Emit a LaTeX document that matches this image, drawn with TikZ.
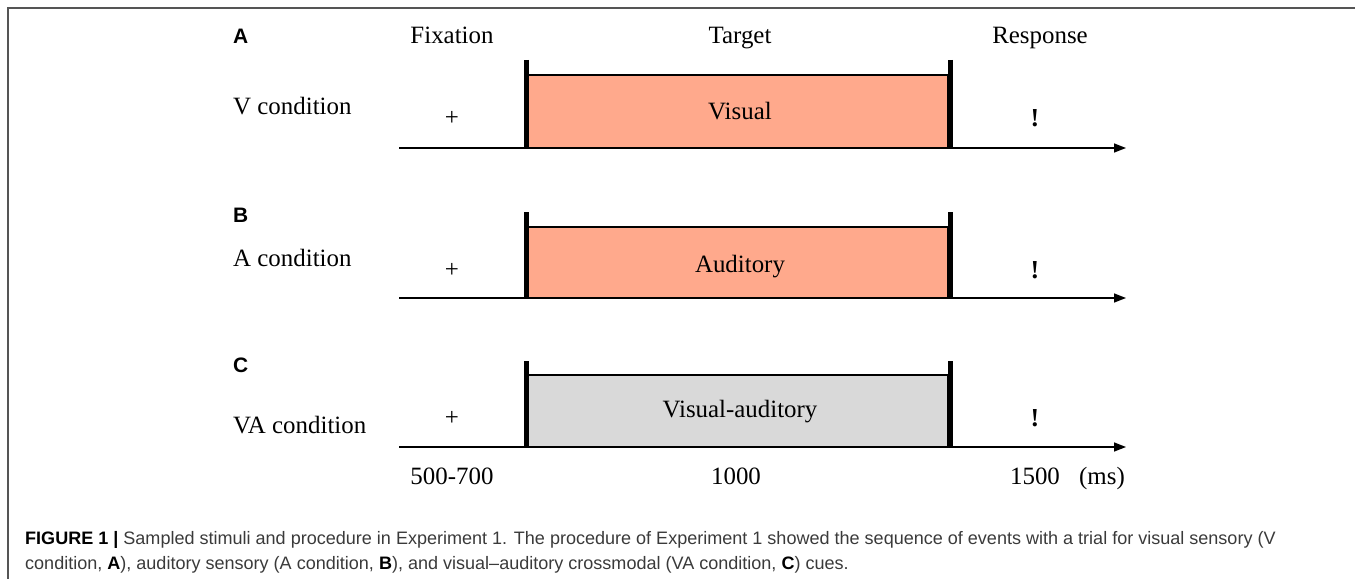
\documentclass[tikz,border=0pt]{standalone}
\usepackage{fontspec}
\setmainfont{Liberation Serif}
\newfontfamily\capfont{Liberation Sans}
\usetikzlibrary{arrows.meta}
\definecolor{salmon}{HTML}{FFA98C}
\definecolor{stimgray}{HTML}{D9D9D9}
\definecolor{captxt}{HTML}{3A3A3A}
\definecolor{framecol}{HTML}{555555}
\begin{document}
\begin{tikzpicture}[x=1bp,y=-1bp,
  lbl/.style={font=\fontsize{25}{30}\selectfont, inner sep=0},
  blbl/.style={lbl, anchor=base},
  panel/.style={font=\fontsize{21}{24}\selectfont\capfont\bfseries, inner sep=0, anchor=base west},
  cond/.style={lbl, anchor=base west},
  excl/.style={lbl, font=\fontsize{26}{30}\selectfont\bfseries},
  axisline/.style={line width=1.4bp, -{Triangle[length=12bp,width=9bp]}},
  bar/.style={line width=5bp},
  stimbox/.style={draw, line width=1.2bp, inner sep=0, minimum width=420bp},
  capline/.style={font=\fontsize{18.1}{21}\selectfont\capfont, text=captxt, inner sep=0, anchor=base west}
]
\useasboundingbox (0,0) rectangle (1355,579);
% frame
\coordinate (fb) at (8,579);
\coordinate (fc) at (8,8);
\coordinate (fr) at (1355,8);
\draw[framecol, line width=1.5bp] (fb) -- (fc) -- (fr);

% headers
\node[blbl] (hfix) at (452,44) {Fixation};
\node[blbl] (htar) at (740,44) {Target};
\node[blbl] (hres) at (1040,44) {Response};

% ---- Row A ----
\node[panel] (pA) at (233,44) {A};
\node[cond] (cA) at (233,115) {V condition};
\node[stimbox, fill=salmon, minimum height=73bp] (bA) at (738,111.5) {};
\node[blbl] (tA) at (740,120) {Visual};
\coordinate (aA0) at (399,148);
\coordinate (aA1) at (1126,148);
\draw[axisline] (aA0) -- (aA1);
\coordinate (lA0) at (526.5,60); \coordinate (lA1) at (526.5,149);
\coordinate (rA0) at (950.5,60); \coordinate (rA1) at (950.5,149);
\draw[bar] (lA0) -- (lA1);
\draw[bar] (rA0) -- (rA1);
\node[lbl] (fxA) at (452,118) {+};
\node[excl] (exA) at (1035,118) {!};

% ---- Row B ----
\node[panel] (pB) at (233,222) {B};
\node[cond] (cB) at (233,266) {A condition};
\node[stimbox, fill=salmon, minimum height=71bp] (bB) at (738,262.5) {};
\node[blbl] (tB) at (740,272) {Auditory};
\coordinate (aB0) at (399,298);
\coordinate (aB1) at (1126,298);
\draw[axisline] (aB0) -- (aB1);
\coordinate (lB0) at (526.5,212); \coordinate (lB1) at (526.5,299);
\coordinate (rB0) at (950.5,212); \coordinate (rB1) at (950.5,299);
\draw[bar] (lB0) -- (lB1);
\draw[bar] (rB0) -- (rB1);
\node[lbl] (fxB) at (452,270) {+};
\node[excl] (exB) at (1035,270) {!};

% ---- Row C ----
\node[panel] (pC) at (233,372) {C};
\node[cond] (cC) at (233,433) {VA condition};
\node[stimbox, fill=stimgray, minimum height=72bp] (bC) at (738,411) {};
\node[blbl] (tC) at (740,417) {Visual-auditory};
\coordinate (aC0) at (399,447);
\coordinate (aC1) at (1126,447);
\draw[axisline] (aC0) -- (aC1);
\coordinate (lC0) at (526.5,361); \coordinate (lC1) at (526.5,448);
\coordinate (rC0) at (950.5,361); \coordinate (rC1) at (950.5,448);
\draw[bar] (lC0) -- (lC1);
\draw[bar] (rC0) -- (rC1);
\node[lbl] (fxC) at (452,418) {+};
\node[excl] (exC) at (1035,418) {!};

% durations
\node[blbl] (d1) at (452,484) {500-700};
\node[blbl] (d2) at (736,484) {1000};
\node[blbl] (d3) at (1035,484) {1500};
\node[blbl] (d4) at (1102,484) {(ms)};

% caption
\node[capline] (cap1) at (25,544) {{\color{black}\bfseries FIGURE 1 |} Sampled stimuli and procedure in Experiment 1. The procedure of Experiment 1 showed the sequence of events with a trial for visual sensory (V};
\node[capline] (cap2) at (25,569) {condition, {\color{black}\bfseries A}), auditory sensory (A condition, {\color{black}\bfseries B}), and visual–auditory crossmodal (VA condition, {\color{black}\bfseries C}) cues.};
\end{tikzpicture}
\end{document}
